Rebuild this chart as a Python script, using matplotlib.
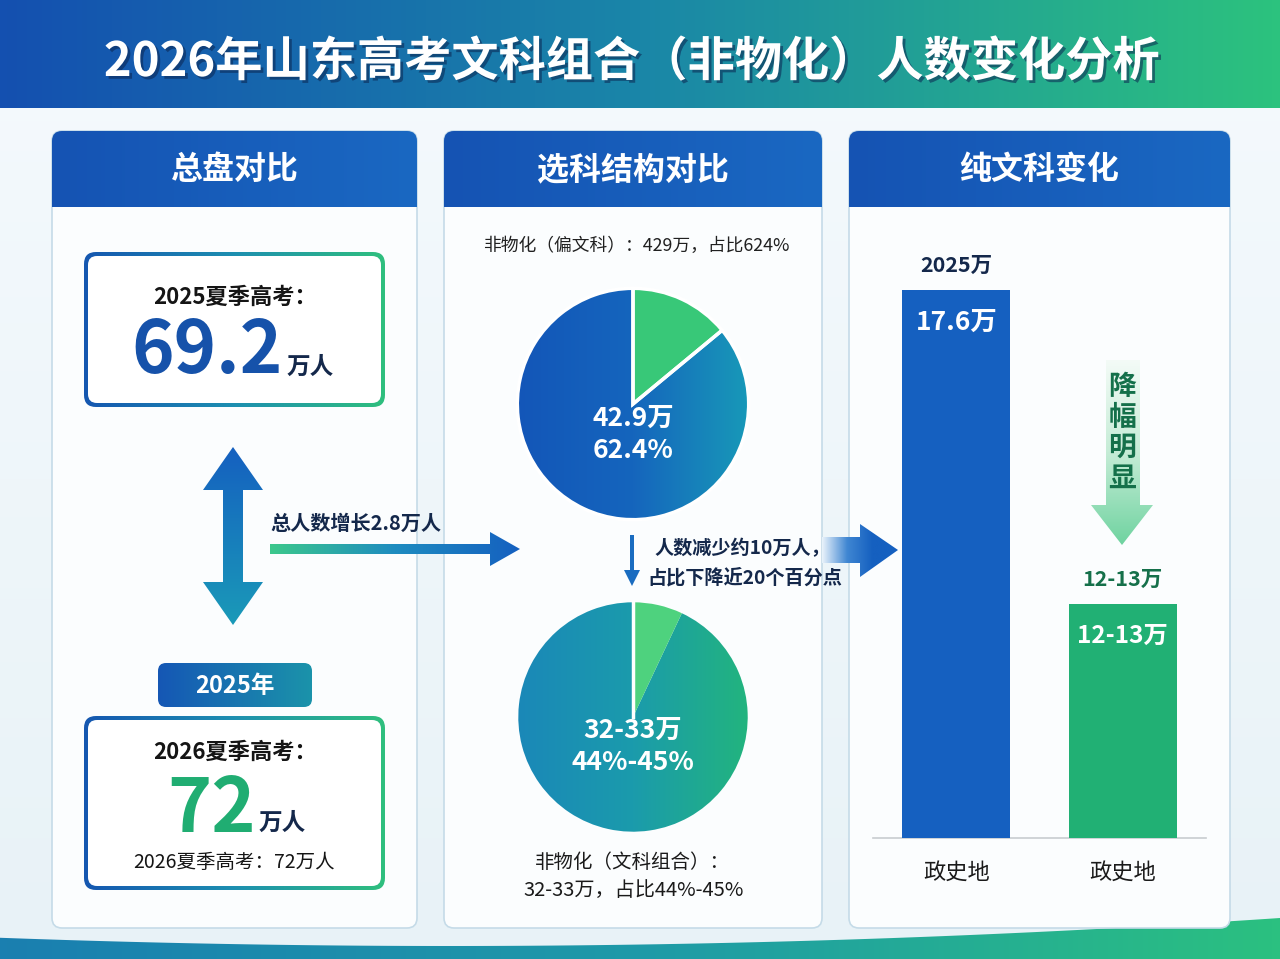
import numpy as np
import matplotlib
matplotlib.use("Agg")
import matplotlib.pyplot as plt
from matplotlib.patches import FancyBboxPatch, Polygon
from matplotlib.colors import LinearSegmentedColormap
import matplotlib.patheffects as pe

plt.rcParams["font.family"] = ["Noto Sans CJK SC", "DejaVu Sans"]

# data
title = "2026年山东高考文科组合（非物化）人数变化分析"
panel_titles = ["总盘对比", "选科结构对比", "纯文科变化"]
total_2025 = "69.2"
total_2026 = "72"
growth_text = "总人数增长2.8万人"
pie_2025_shares = [14, 86]
pie_2025_label = "42.9万\n62.4%"
pie_2026_shares = [7, 93]
pie_2026_label = "32-33万\n44%-45%"
bar_cats = ["政史地", "政史地"]
bar_values = [17.6, 12.5]
bar_inner = ["17.6万", "12-13万"]
bar_top = ["2025万", "12-13万"]

NAVY = "#14284b"
BLUE = "#1560c0"
GREEN = "#20ad72"


def grad(ax, extent, colors, horizontal=True, clip=None, zorder=1):
    cmap = LinearSegmentedColormap.from_list("g", colors)
    g = np.linspace(0, 1, 256)
    arr = g[None, :] if horizontal else g[:, None]
    im = ax.imshow(arr, cmap=cmap, extent=extent, aspect="auto", origin="upper",
                   zorder=zorder, interpolation="bilinear")
    if clip is not None:
        im.set_clip_path(clip)
    return im


fig = plt.figure(figsize=(12.8, 9.59), dpi=100)
ax = fig.add_axes([0, 0, 1, 1])
ax.axis("off")

# page background + banner
grad(ax, (0, 1280, 959, 0), ["#f5fafd", "#e8f2f7"], horizontal=False, zorder=0)
grad(ax, (0, 1280, 108, 0), ["#1450b0", "#1a86a8", "#2cc27e"], zorder=1)
ax.text(632, 62, title, color="white", fontsize=34, fontweight="bold", ha="center", va="center",
        zorder=5, path_effects=[pe.withSimplePatchShadow(offset=(2, -2), shadow_rgbFace="#0b2550", alpha=0.55)])

# bottom wave
xs = np.linspace(0, 1280, 100)
ys = 946 - 28 * ((xs - 450) / 830) ** 2
wave = Polygon(np.column_stack([np.r_[xs, 1280, 0], np.r_[ys, 959, 959]]), closed=True,
               fc="none", ec="none", transform=ax.transData)
ax.add_patch(wave)
grad(ax, (0, 1280, 959, 910), ["#1a7fb0", "#1e9aa8", "#2bc080"], clip=wave, zorder=1)

# panels
panels = [(52, 417), (444, 822), (849, 1230)]
for (x0, x1), t in zip(panels, panel_titles):
    p = FancyBboxPatch((x0, 131), x1 - x0, 928 - 131, boxstyle="round,pad=0,rounding_size=10",
                       fc="#fbfdfe", ec="#c5dbe8", lw=1.2, zorder=2)
    ax.add_patch(p)
    grad(ax, (x0, x1, 207, 131), ["#1553b3", "#1a68c2"], clip=p, zorder=3)
    ax.text((x0 + x1) / 2, 170, t, color="white", fontsize=23, fontweight="bold",
            ha="center", va="center", zorder=5)


def grad_box(x0, y0, x1, y1):
    outer = FancyBboxPatch((x0, y0), x1 - x0, y1 - y0, boxstyle="round,pad=0,rounding_size=12",
                           fc="none", ec="none", zorder=3)
    ax.add_patch(outer)
    grad(ax, (x0, x1, y1, y0), ["#1557b0", "#1d8fb0", "#2fbf7e"], clip=outer, zorder=3)
    inner = FancyBboxPatch((x0 + 4, y0 + 4), x1 - x0 - 8, y1 - y0 - 8,
                           boxstyle="round,pad=0,rounding_size=9", fc="white", ec="none", zorder=4)
    ax.add_patch(inner)


# panel 1
grad_box(84, 252, 385, 407)
ax.text(235, 297, "2025夏季高考：", fontsize=16, fontweight="bold", color="#151515",
        ha="center", va="center", zorder=5)
ax.text(283, 352, total_2025, fontsize=52, fontweight="bold", color="#1652aa",
        ha="right", va="center", zorder=5)
ax.text(287, 367, "万人", fontsize=17, fontweight="bold", color=NAVY, ha="left", va="center", zorder=5)

varrow = Polygon([(233, 447), (263, 490), (243, 490), (243, 582), (263, 582), (233, 625),
                  (203, 582), (223, 582), (223, 490), (203, 490)], closed=True,
                 fc="none", ec="none", zorder=4)
ax.add_patch(varrow)
grad(ax, (200, 266, 625, 447), ["#1560c0", "#1a9ab8"], horizontal=False, clip=varrow, zorder=4)

ax.text(270, 523, growth_text, fontsize=14.5, fontweight="bold", color=NAVY,
        ha="left", va="center", zorder=5)
harrow = Polygon([(270, 544), (490, 544), (490, 532), (520, 549), (490, 566), (490, 554), (270, 554)],
                 closed=True, fc="none", ec="none", zorder=4)
ax.add_patch(harrow)
grad(ax, (270, 520, 566, 532), ["#3cc88c", "#1e8cc0", "#1560c0"], clip=harrow, zorder=4)

pill = FancyBboxPatch((158, 663), 154, 44, boxstyle="round,pad=0,rounding_size=8",
                      fc="none", ec="none", zorder=4)
ax.add_patch(pill)
grad(ax, (158, 312, 707, 663), ["#1557b5", "#1b93aa"], clip=pill, zorder=4)
ax.text(235, 686, "2025年", fontsize=17, fontweight="bold", color="white",
        ha="center", va="center", zorder=5)

grad_box(84, 716, 385, 890)
ax.text(235, 752, "2026夏季高考：", fontsize=16, fontweight="bold", color="#151515",
        ha="center", va="center", zorder=5)
ax.text(256, 810, total_2026, fontsize=54, fontweight="bold", color=GREEN,
        ha="right", va="center", zorder=5)
ax.text(259, 823, "万人", fontsize=17, fontweight="bold", color=NAVY, ha="left", va="center", zorder=5)
ax.text(234, 862, "2026夏季高考：72万人", fontsize=14, color="#151515",
        ha="center", va="center", zorder=5)

# panel 2
ax.text(636, 246, "非物化（偏文科）：429万，占比624%", fontsize=12.8, color="#202020",
        ha="center", va="center", zorder=5)
ax.text(654, 549, "人数减少约10万人，", fontsize=13.8, fontweight="bold", color=NAVY,
        ha="left", va="center", zorder=5)
ax.text(647, 578, "占比下降近20个百分点", fontsize=13.8, fontweight="bold", color=NAVY,
        ha="left", va="center", zorder=5)
darrow = Polygon([(630, 535), (634, 535), (634, 570), (640, 570), (632, 586), (624, 570), (630, 570)],
                 closed=True, fc="#1a6cc0", ec="none", zorder=5)
ax.add_patch(darrow)
rarrow = Polygon([(822, 537), (860, 537), (860, 524), (898, 550), (860, 577), (860, 563), (822, 563)],
                 closed=True, fc="none", ec="none", zorder=6)
ax.add_patch(rarrow)
grad(ax, (822, 898, 577, 524), ["#eaf3fb", "#3f86d2", "#1560c0", "#1560c0"], clip=rarrow, zorder=6)
ax.text(632, 863, "非物化（文科组合）：", fontsize=14, color="#1a1a1a", ha="center", va="center", zorder=5)
ax.text(634, 890, "32-33万，占比44%-45%", fontsize=14.5, color="#1a1a1a", ha="center", va="center", zorder=5)

# panel 3: decrease arrow
sarrow = Polygon([(1106, 360), (1140, 360), (1140, 505), (1153, 505), (1122, 545), (1091, 505), (1106, 505)],
                 closed=True, fc="none", ec="none", zorder=4)
ax.add_patch(sarrow)
grad(ax, (1090, 1154, 545, 360), ["#f4fbf7", "#c5ecd6", "#6fd3a0"], horizontal=False, clip=sarrow, zorder=4)
for i, ch in enumerate("降幅明显"):
    ax.text(1122, 387 + i * 30.5, ch, fontsize=20, fontweight="bold", color="#14704a",
            ha="center", va="center", zorder=5)
ax.plot([873, 1206], [838, 838], color="#c8ccd0", lw=1.2, zorder=5)

ax.set_xlim(0, 1280)
ax.set_ylim(959, 0)


def px_axes(x0, y0, x1, y1):
    return fig.add_axes([x0 / 1280, (959 - y1) / 959, (x1 - x0) / 1280, (y1 - y0) / 959])


# pies
def draw_pie(cx, cy, r, shares, small_color, main_colors, label, white_edges):
    pa = px_axes(cx - r, cy - r, cx + r, cy + r)
    wedges, _ = pa.pie(shares, startangle=90, counterclock=False, colors=[small_color, "none"],
                       wedgeprops=dict(edgecolor="white" if white_edges else "none",
                                       linewidth=2.5 if white_edges else 0))
    pa.set_xlim(-1.02, 1.02)
    pa.set_ylim(-1.02, 1.02)
    im = pa.imshow(np.linspace(0, 1, 256)[None, :],
                   cmap=LinearSegmentedColormap.from_list("p", main_colors),
                   extent=(-1, 1, -1, 1), aspect="auto", zorder=0, interpolation="bilinear")
    im.set_clip_path(wedges[1])
    if not white_edges:
        pa.plot([0, 0], [0, 1], color="white", lw=2.5, zorder=3)
    pa.text(0, -0.26, label, fontsize=19, fontweight="bold", color="white", ha="center",
            va="center", linespacing=1.25, zorder=4)
    pa.axis("off")
    pa.patch.set_alpha(0)


draw_pie(633, 404, 118, pie_2025_shares, "#38c878", ["#1356b8", "#1565bd", "#1899b8"],
         pie_2025_label, True)
draw_pie(633, 717, 117, pie_2026_shares, "#4ed27e", ["#1a88b8", "#1b9bac", "#22b47e"],
         pie_2026_label, False)

# bars
bx = px_axes(873, 240, 1206, 838)
pos = np.arange(len(bar_values))
bars = bx.bar(pos, bar_values, width=0.65, color=[BLUE, "#21b074"], zorder=2)
bx.set_xlim(-0.5, 1.5)
bx.set_ylim(8.7, 18.41)
bx.axis("off")
bx.patch.set_alpha(0)
for i, v in enumerate(bar_values):
    bx.annotate(bar_inner[i], (i, v), xytext=(0, -23), textcoords="offset points", ha="center",
                va="center", fontsize=19 if i == 0 else 17.5, fontweight="bold", color="white")
    bx.annotate(bar_top[i], (i, v), xytext=(0, 18), textcoords="offset points", ha="center",
                va="center", fontsize=15.5, fontweight="bold", color=NAVY if i == 0 else "#15704a")
    bx.annotate(bar_cats[i], (i, 8.7), xytext=(0, -25), textcoords="offset points", ha="center",
                va="center", fontsize=16, color="#1a1a1a", annotation_clip=False)

fig.savefig("out.png", dpi=100)
